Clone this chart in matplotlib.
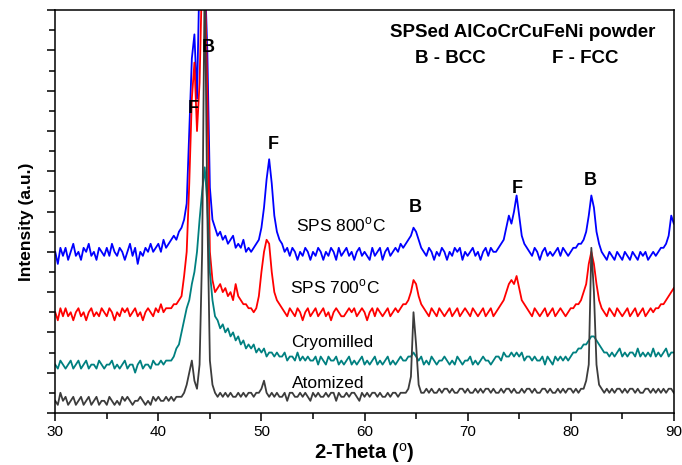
import numpy as np
import matplotlib.pyplot as plt

plt.rcParams['font.family'] = ['Liberation Sans', 'DejaVu Sans']
plt.rcParams['mathtext.fontset'] = 'custom'
plt.rcParams['mathtext.rm'] = 'Liberation Sans'
plt.rcParams['mathtext.bf'] = 'Liberation Sans:bold'

# intensities (a.u.), one value every 0.25 deg from 30 to 90
sps_800 = [
    40, 37, 41, 39, 41, 38, 40, 42, 39, 40, 38, 41, 40, 42, 39, 40,
    38, 41, 40, 39, 41, 39, 42, 40, 39, 41, 40, 38, 40, 42, 39, 41,
    37, 40, 39, 41, 40, 42, 40, 41, 42, 40, 43, 41, 42, 43, 44, 43,
    45, 46, 48, 52, 70, 88, 94, 78, 110, 110, 110, 90, 56, 48, 46, 44,
    45, 43, 44, 42, 43, 44, 41, 42, 41, 43, 40, 41, 40, 41, 42, 43,
    46, 51, 58, 63, 57, 49, 45, 43, 42, 40, 41, 39, 41, 40, 38, 40,
    39, 41, 40, 38, 40, 39, 41, 40, 38, 40, 39, 41, 40, 38, 41, 39,
    40, 41, 39, 40, 38, 40, 41, 39, 40, 39, 38, 41, 39, 40, 41, 38,
    40, 41, 39, 40, 41, 40, 42, 41, 42, 43, 44, 46, 45, 43, 41, 40,
    39, 41, 40, 38, 40, 39, 41, 40, 38, 40, 39, 41, 40, 41, 38, 40,
    39, 40, 41, 39, 40, 38, 40, 41, 39, 41, 40, 40, 41, 42, 43, 46,
    49, 47, 50, 54, 49, 44, 42, 41, 40, 39, 41, 40, 38, 40, 41, 39,
    40, 39, 40, 41, 39, 41, 40, 39, 40, 41, 41, 42, 42, 43, 45, 49,
    54, 51, 45, 42, 40, 39, 38, 40, 39, 38, 40, 39, 38, 40, 39, 38,
    40, 39, 38, 40, 39, 40, 38, 39, 40, 39, 40, 41, 41, 42, 44, 49,
    47,
]
sps_700 = [
    25, 23, 26, 24, 26, 24, 25, 23, 25, 26, 24, 25, 23, 25, 26, 24,
    25, 24, 26, 25, 24, 26, 25, 23, 25, 24, 26, 25, 26, 24, 25, 26,
    24, 25, 23, 25, 26, 25, 24, 26, 25, 27, 25, 26, 26, 26, 27, 27,
    28, 29, 34, 40, 57, 78, 87, 70, 82, 110, 110, 80, 40, 33, 30, 31,
    32, 30, 31, 29, 30, 28, 32, 29, 28, 27, 27, 26, 26, 25, 26, 29,
    35, 40, 43, 42, 35, 30, 28, 27, 26, 25, 24, 26, 25, 24, 26, 25,
    23, 25, 26, 24, 25, 26, 24, 25, 26, 24, 25, 23, 25, 26, 25, 24,
    24, 25, 26, 25, 26, 24, 25, 26, 25, 23, 25, 26, 24, 26, 25, 24,
    25, 26, 24, 25, 26, 25, 26, 27, 27, 28, 30, 33, 32, 29, 27, 26,
    25, 24, 26, 25, 24, 26, 25, 24, 25, 26, 24, 25, 26, 24, 25, 26,
    25, 24, 26, 25, 24, 25, 26, 24, 25, 26, 24, 25, 26, 27, 28, 30,
    32, 33, 32, 34, 31, 28, 27, 26, 25, 24, 26, 25, 24, 25, 26, 24,
    25, 26, 24, 25, 26, 25, 24, 25, 26, 26, 27, 27, 28, 30, 32, 37,
    40, 37, 32, 28, 26, 25, 24, 26, 25, 24, 26, 25, 24, 25, 26, 24,
    25, 26, 24, 25, 26, 24, 25, 26, 25, 26, 26, 27, 27, 28, 29, 30,
    31,
]
cryomilled = [
    12, 11, 13, 12, 11, 12, 13, 11, 12, 13, 11, 12, 13, 11, 12, 12,
    11, 13, 12, 11, 12, 12, 13, 11, 12, 11, 12, 13, 11, 12, 12, 10,
    12, 13, 11, 12, 12, 11, 13, 12, 12, 13, 12, 13, 13, 13, 14, 16,
    17, 20, 23, 26, 28, 32, 35, 40, 48, 55, 61, 52, 35, 28, 24, 23,
    21, 22, 20, 21, 19, 20, 18, 19, 17, 18, 16, 17, 16, 17, 15, 16,
    15, 16, 14, 15, 15, 14, 15, 14, 14, 15, 13, 14, 14, 13, 15, 13,
    14, 13, 14, 13, 13, 14, 12, 14, 13, 12, 14, 13, 13, 14, 12, 13,
    12, 13, 14, 12, 13, 12, 13, 14, 12, 13, 12, 13, 14, 12, 13, 12,
    13, 14, 12, 13, 12, 13, 14, 13, 13, 14, 14, 15, 14, 13, 14, 12,
    13, 12, 14, 13, 12, 13, 13, 14, 13, 12, 13, 12, 14, 13, 12, 13,
    13, 14, 12, 13, 12, 13, 14, 13, 13, 12, 13, 14, 14, 13, 15, 14,
    14, 15, 14, 15, 14, 15, 13, 14, 14, 13, 14, 13, 13, 14, 12, 14,
    13, 12, 14, 13, 14, 13, 14, 13, 14, 15, 15, 16, 16, 17, 17, 18,
    19, 19, 18, 17, 16, 15, 15, 14, 15, 14, 15, 16, 14, 15, 14, 15,
    15, 14, 16, 14, 15, 14, 15, 14, 16, 14, 15, 14, 15, 16, 14, 15,
    15,
]
atomized = [
    3, 2, 5, 3, 4, 2, 3, 4, 2, 3, 4, 2, 3, 4, 2, 3,
    4, 2, 3, 3, 2, 4, 3, 2, 3, 2, 4, 3, 4, 3, 2, 3,
    3, 4, 3, 2, 3, 2, 4, 3, 4, 3, 3, 4, 3, 4, 3, 4,
    4, 4, 5, 7, 10, 13, 8, 6, 12, 40, 110, 50, 13, 7, 5, 4,
    5, 4, 5, 4, 5, 4, 4, 5, 4, 5, 4, 5, 5, 4, 5, 5,
    6, 8, 5, 4, 5, 4, 5, 4, 4, 5, 3, 5, 5, 4, 4, 5,
    4, 5, 4, 3, 5, 4, 5, 4, 4, 5, 4, 5, 5, 3, 5, 4,
    4, 5, 4, 5, 5, 4, 3, 5, 4, 5, 4, 5, 5, 4, 5, 4,
    4, 5, 4, 5, 5, 4, 5, 5, 5, 6, 9, 25, 17, 7, 5, 5,
    6, 5, 6, 5, 5, 6, 5, 6, 6, 5, 6, 5, 5, 6, 6, 5,
    6, 5, 5, 6, 5, 6, 5, 6, 6, 5, 6, 5, 5, 6, 5, 6,
    6, 5, 6, 5, 5, 6, 5, 6, 6, 5, 6, 5, 5, 6, 6, 5,
    6, 5, 5, 6, 5, 6, 5, 6, 6, 5, 6, 5, 6, 6, 8, 12,
    41, 30, 12, 7, 6, 5, 6, 5, 6, 5, 6, 6, 5, 6, 5, 6,
    6, 5, 6, 5, 5, 6, 6, 5, 6, 5, 6, 5, 6, 5, 6, 6,
    5,
]
two_theta = np.arange(30, 90.125, 0.25)

series = [
    (sps_800, '#0000ff'),
    (sps_700, '#ff0000'),
    (cryomilled, '#008080'),
    (atomized, '#3c3c3c'),
]

sample_labels = ['SPS 800$^{\\mathrm{o}}$C', 'SPS 700$^{\\mathrm{o}}$C', 'Cryomilled', 'Atomized']
sample_label_pos = [(57.7, 46.7), (57.1, 31.3), (56.9, 17.4), (56.5, 7.4)]

peak_labels = ['F', 'B', 'F', 'B', 'F', 'B']
peak_label_pos = [(43.4, 75.7), (44.8, 90.8), (51.1, 66.7), (64.9, 50.9), (74.8, 55.8), (81.9, 57.6)]

fig = plt.figure(figsize=(6.82, 4.65), dpi=100)
ax = fig.add_axes([0.081, 0.112, 0.907, 0.866])

for values, color in series:
    ax.plot(two_theta, values, color=color, linewidth=1.3)

for label, (x, y) in zip(sample_labels, sample_label_pos):
    ax.text(x, y, label, ha='center', va='center', fontsize=12.5)

for label, (x, y) in zip(peak_labels, peak_label_pos):
    ax.text(x, y, label, ha='center', va='center', fontsize=13, fontweight='bold')

ax.text(75.35, 94.5, 'SPSed AlCoCrCuFeNi powder', ha='center', va='center', fontsize=13.5, fontweight='bold')
ax.text(68.3, 88.1, 'B - BCC', ha='center', va='center', fontsize=13.5, fontweight='bold')
ax.text(81.4, 88.1, 'F - FCC', ha='center', va='center', fontsize=13.5, fontweight='bold')

ax.set_xlim(30, 90)
ax.set_ylim(0, 100)
ax.set_xticks(range(30, 91, 10))
ax.set_xticks(range(35, 90, 10), minor=True)
ax.set_yticks(range(0, 101, 10))
ax.set_yticks(range(5, 100, 10), minor=True)
ax.set_yticklabels([])
ax.tick_params(axis='both', which='major', direction='out', length=6, width=1.1, labelsize=11, pad=3)
ax.tick_params(axis='both', which='minor', direction='out', length=4, width=1.1)
for spine in ax.spines.values():
    spine.set_linewidth(1.1)

ax.set_xlabel('2-Theta ($^{\\mathrm{o}}$)', fontsize=14.5, fontweight='bold')
ax.xaxis.set_label_coords(0.5, -0.07)
ax.set_ylabel('Intensity (a.u.)', fontsize=12.5, fontweight='bold')
ax.yaxis.set_label_coords(-0.035, 0.475)

plt.savefig('out.png', dpi=100)
plt.close()
